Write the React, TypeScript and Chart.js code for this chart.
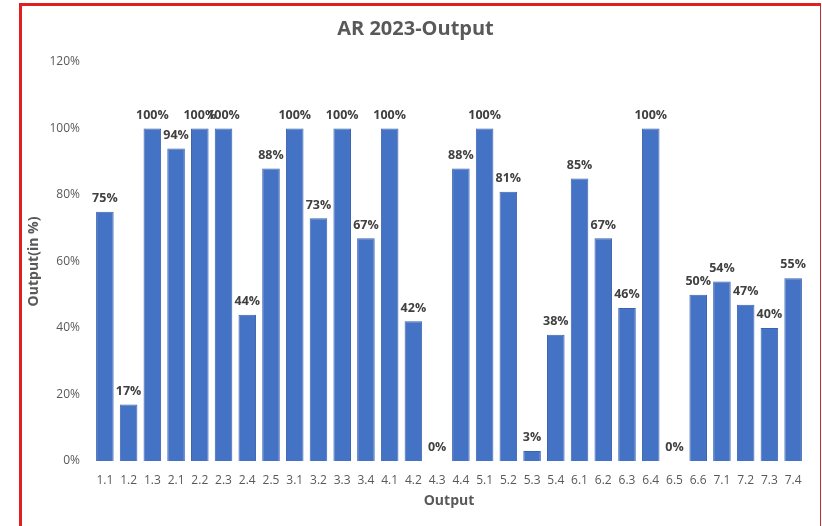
import React, { useEffect, useRef } from "react";
import { Chart, registerables } from "chart.js";

Chart.register(...registerables);

const categories = ["1.1","1.2","1.3","2.1","2.2","2.3","2.4","2.5","3.1","3.2","3.3","3.4","4.1","4.2","4.3","4.4","5.1","5.2","5.3","5.4","6.1","6.2","6.3","6.4","6.5","6.6","7.1","7.2","7.3","7.4"];
const outputValues = [75,17,100,94,100,100,44,88,100,73,100,67,100,42,0,88,100,81,3,38,85,67,46,100,0,50,54,47,40,55];
const chartTitle = "AR 2023-Output";
const xTitle = "Output";
const yTitle = "Output(in %)";

const FONT = "'Open Sans', 'Noto Sans', sans-serif";

const labelPlugin = {
  id: "barLabels",
  afterDatasetsDraw(chart: any) {
    const ctx = chart.ctx;
    const meta = chart.getDatasetMeta(0);
    ctx.save();
    ctx.font = `bold 12.5px ${FONT}`;
    ctx.fillStyle = "#404040";
    ctx.textAlign = "center";
    ctx.textBaseline = "bottom";
    meta.data.forEach((bar: any, i: number) => {
      ctx.fillText(outputValues[i] + "%", bar.x, bar.y - 7);
    });
    ctx.restore();
  },
};

export default function App() {
  const ref = useRef<HTMLCanvasElement>(null);
  useEffect(() => {
    const chart = new Chart(ref.current!, {
      type: "bar",
      data: {
        labels: categories,
        datasets: [
          {
            data: outputValues,
            backgroundColor: "#4472C4",
            borderColor: "#3A62AE",
            borderWidth: 1,
            categoryPercentage: 0.74,
            barPercentage: 1,
          },
        ],
      },
      options: {
        animation: false,
        responsive: false,
        maintainAspectRatio: false,
        layout: { padding: { left: 26, right: 17, top: 6, bottom: 10 } },
        plugins: {
          legend: { display: false },
          tooltip: { enabled: false },
          title: {
            display: true,
            text: chartTitle,
            color: "#595959",
            font: { family: FONT, size: 20, weight: "bold" },
            padding: { top: 11, bottom: 21 },
          },
        },
        scales: {
          x: {
            grid: { display: false },
            border: { display: false },
            ticks: { color: "#595959", font: { family: FONT, size: 12 }, maxRotation: 0, autoSkip: false, padding: 4 },
            title: { display: true, text: xTitle, color: "#595959", font: { family: FONT, size: 14, weight: "bold" }, padding: { top: 4, bottom: 7 } },
            afterFit(scale: any) { scale.height = 55; },
          },
          y: {
            min: 0,
            max: 120,
            grid: { display: false },
            border: { display: false },
            ticks: { stepSize: 20, color: "#595959", font: { family: FONT, size: 12 }, padding: 5, callback: (v: any) => v + "%" },
            title: { display: true, text: yTitle, color: "#595959", font: { family: FONT, size: 14, weight: "bold" }, padding: 0 },
            afterFit(scale: any) { scale.width = 67; },
          },
        },
      },
      plugins: [labelPlugin],
    });
    return () => chart.destroy();
  }, []);
  return (
    <div style={{ position: "fixed", left: 0, top: 0, width: 822, height: 526, background: "#fff" }}>
      <canvas ref={ref} width={822} height={526} style={{ position: "absolute", left: 0, top: 0 }} />
      <div style={{ position: "absolute", left: 19, top: 3, width: 3, height: 523, background: "#e02020" }} />
      <div style={{ position: "absolute", left: 19, top: 3, width: 802, height: 3, background: "#e02020" }} />
      <div style={{ position: "absolute", left: 820, top: 3, width: 1, height: 523, background: "#c03030" }} />
    </div>
  );
}
